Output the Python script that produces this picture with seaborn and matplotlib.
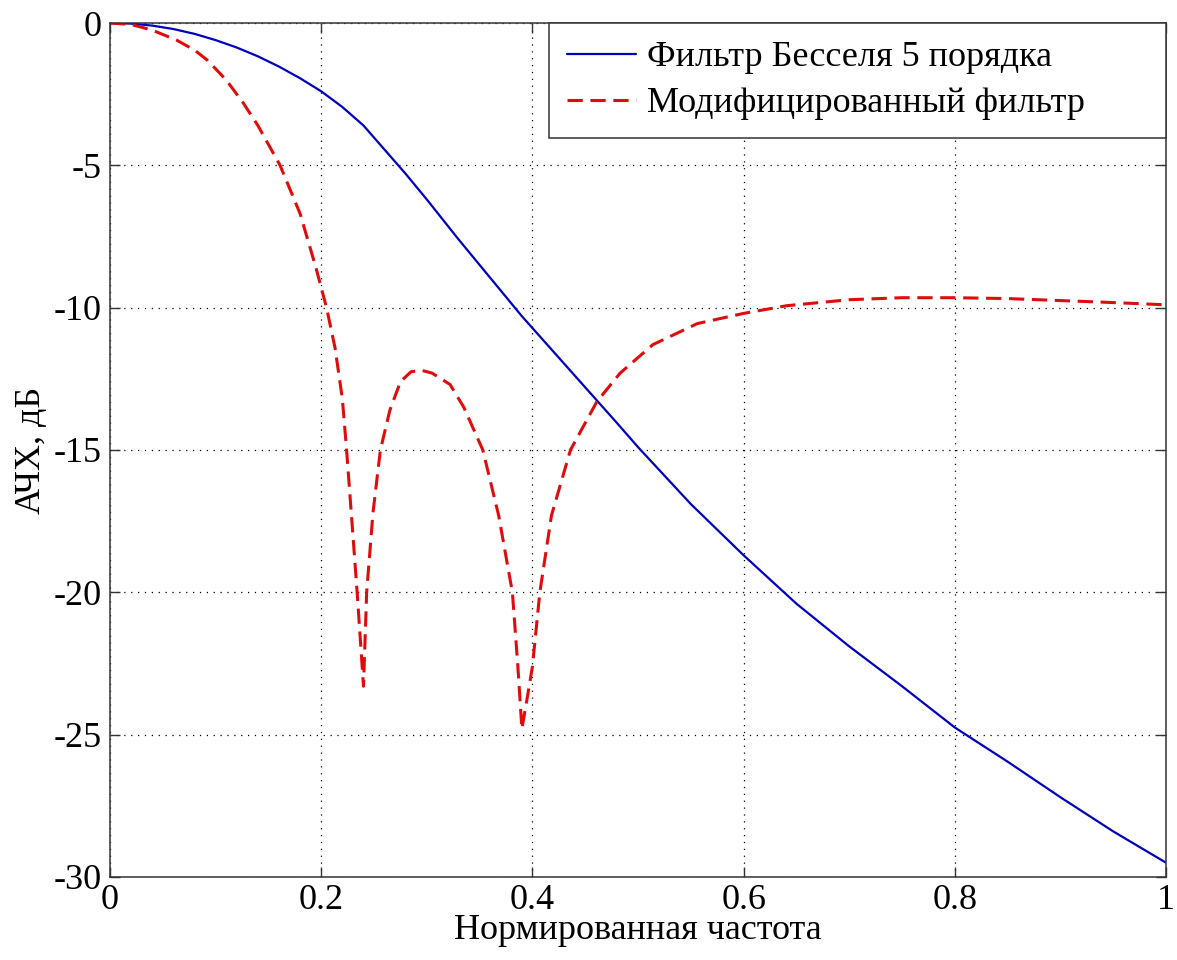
import numpy as np
import pandas as pd
import matplotlib
matplotlib.use("Agg")
import matplotlib.pyplot as plt
import seaborn as sns

# --- данные ---
bessel_x = [0.0, 0.02, 0.04, 0.06, 0.08, 0.10, 0.12, 0.14, 0.16, 0.18, 0.20,
            0.22, 0.24, 0.26, 0.28, 0.30, 0.33, 0.36, 0.39, 0.42, 0.45, 0.48,
            0.50, 0.55, 0.60, 0.65, 0.70, 0.75, 0.80, 0.85, 0.88, 0.90, 0.95, 1.0]
bessel_y = [0.0, -0.02, -0.09, -0.21, -0.38, -0.6, -0.86, -1.17, -1.53, -1.94, -2.4,
            -2.95, -3.6, -4.45, -5.3, -6.2, -7.6, -8.95, -10.3, -11.55, -12.8, -14.05,
            -14.9, -16.9, -18.7, -20.4, -21.9, -23.3, -24.75, -25.95, -26.7, -27.2, -28.4, -29.5]

mod_x = [0.0, 0.02, 0.04, 0.063, 0.08, 0.092, 0.11, 0.126, 0.14, 0.161, 0.18,
         0.195, 0.205, 0.213, 0.22, 0.224, 0.229, 0.234, 0.238, 0.240, 0.243,
         0.249, 0.256, 0.265, 0.275, 0.285, 0.295, 0.305, 0.322, 0.335, 0.353,
         0.368, 0.381, 0.386, 0.390, 0.396, 0.400, 0.407, 0.418, 0.436, 0.461,
         0.483, 0.514, 0.556, 0.60, 0.641, 0.70, 0.75, 0.80, 0.85, 0.90, 0.95, 1.0]
mod_y = [0.0, -0.05, -0.25, -0.6, -0.95, -1.3, -2.0, -2.8, -3.6, -5.0, -6.7,
         -8.6, -10.0, -11.4, -13.2, -15.0, -17.5, -20.0, -22.2, -23.3, -20.0,
         -17.2, -15.0, -13.6, -12.6, -12.25, -12.2, -12.3, -12.7, -13.5, -15.0,
         -17.3, -20.0, -22.5, -24.8, -23.5, -22.6, -20.0, -17.3, -15.0, -13.3,
         -12.3, -11.3, -10.56, -10.2, -9.93, -9.72, -9.65, -9.65, -9.68, -9.75, -9.82, -9.9]

x_ticks = [0, 0.2, 0.4, 0.6, 0.8, 1.0]
x_tick_labels = ["0", "0.2", "0.4", "0.6", "0.8", "1"]
y_ticks = [0, -5, -10, -15, -20, -25, -30]
y_tick_labels = ["0", "-5", "-10", "-15", "-20", "-25", "-30"]

label_bessel = "Фильтр Бесселя 5 порядка"
label_mod = "Модифицированный фильтр"

df_bessel = pd.DataFrame({"f": bessel_x, "A": bessel_y})
df_mod = pd.DataFrame({"f": mod_x, "A": mod_y})

FS = 26

# --- стиль в духе MATLAB ---
sns.set_style("ticks")
plt.rcParams["font.family"] = ["Liberation Serif", "DejaVu Serif"]
plt.rcParams["axes.unicode_minus"] = False
plt.rcParams["xtick.direction"] = "in"
plt.rcParams["ytick.direction"] = "in"
plt.rcParams["text.color"] = "black"
plt.rcParams["axes.labelcolor"] = "black"
plt.rcParams["xtick.labelcolor"] = "black"
plt.rcParams["ytick.labelcolor"] = "black"

fig = plt.figure(figsize=(11.77, 9.6), dpi=100)
ax = fig.add_axes([0.0935, 0.0865, 0.8972, 0.8895])

sns.lineplot(data=df_bessel, x="f", y="A", ax=ax, color="#0000c0",
             linewidth=1.6, label=label_bessel, sort=False, estimator=None)
sns.lineplot(data=df_mod, x="f", y="A", ax=ax, color="#e00c0c",
             linewidth=2.2, label=label_mod, sort=False, estimator=None,
             dashes=False)
ax.lines[1].set_dashes([5, 2.5])

ax.set_xlim(0, 1)
ax.set_ylim(-30, 0)
ax.set_xticks(x_ticks)
ax.set_xticklabels(x_tick_labels)
ax.set_yticks(y_ticks)
ax.set_yticklabels(y_tick_labels)
ax.tick_params(axis="both", labelsize=FS, length=7, width=1,
               top=True, right=True, color="#333333", labelcolor="black")
ax.tick_params(axis="x", pad=5)
ax.tick_params(axis="y", pad=6)

ax.grid(True, linestyle=(0, (1, 4.5)), color="black", linewidth=0.9)
for s in ax.spines.values():
    s.set_linewidth(1.1)
    s.set_color("#333333")

ax.set_xlabel("Нормированная частота", fontsize=FS, labelpad=-2)
ax.set_ylabel("АЧХ, дБ", fontsize=FS, labelpad=4)

# рамка легенды растянута как в MATLAB (с запасом справа)
leg = ax.legend(loc="upper right", bbox_to_anchor=(0.4157, 0, 0.5843, 1),
                mode="expand", fontsize=FS, frameon=True, fancybox=False,
                borderaxespad=0, handlelength=1.9, handletextpad=0.3,
                borderpad=0.5, labelspacing=0.35, framealpha=1)
leg.get_frame().set_edgecolor("#333333")
leg.get_frame().set_linewidth(1.1)

plt.savefig("out.png", dpi=100)
